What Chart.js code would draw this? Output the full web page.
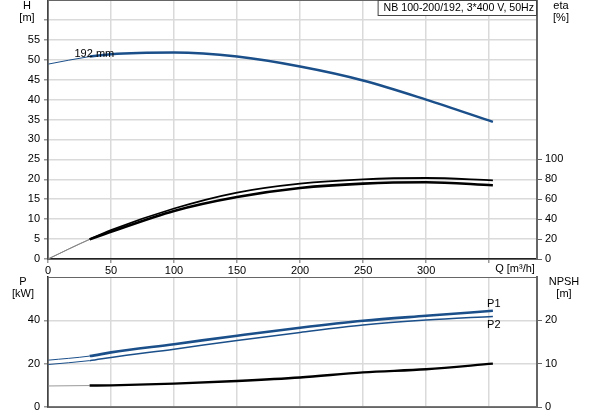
<!DOCTYPE html>
<html>
<head>
<meta charset="utf-8">
<script src="https://cdn.jsdelivr.net/npm/chart.js@4.4.0/dist/chart.umd.min.js"></script>
<style>
  body { margin: 0; background: #fff; }
  canvas { position: absolute; left: 0; }
  #top { top: 0; }
  #bottom { top: 276px; }
</style>
</head>
<body>
<canvas id="top" width="593" height="277"></canvas>
<canvas id="bottom" width="593" height="139"></canvas>
<script>
// caudal Q [m3/h]
const caudal = [0, 33, 50, 100, 150, 200, 250, 300, 353];
// altura H [m]
const altura = [48.9, 50.8, 51.4, 51.8, 50.8, 48.3, 44.8, 40.0, 34.4];
// rendimiento eta [%]
const etaSup = [0, 19.7, 29.0, 50.7, 66.7, 75.7, 80.0, 81.3, 79.0];
const etaInf = [0, 19.7, 27.3, 48.3, 62.3, 71.3, 75.7, 77.0, 74.0];
// potencia P1 / P2 [kW]
const potP1 = [21.6, 23.5, 25.2, 29.0, 32.9, 36.6, 39.8, 42.1, 44.4];
const potP2 = [19.6, 21.4, 22.9, 26.7, 30.7, 34.4, 37.8, 40.1, 41.8];
// NPSH [m]
const npsh = [4.85, 4.95, 5.0, 5.4, 6.0, 6.8, 8.0, 8.7, 10.0];

const ticksQ = [0, 50, 100, 150, 200, 250, 300, 350];
const ticksH = [0, 5, 10, 15, 20, 25, 30, 35, 40, 45, 50, 55, 60];
const ticksEta = [0, 20, 40, 60, 80, 100];
const ticksP = [0, 20, 40];
const ticksNpsh = [0, 10, 20];

const azul = '#1b4f8a';
const fuente = { family: 'Liberation Sans, Arial, sans-serif', size: 11 };
const rejilla = '#dadada';

function puntos(ys) {
  return caudal.map((q, i) => ({ x: q, y: ys[i] }));
}

// tramo fino fuera del rango de trabajo
function serie(ys, eje, color, ancho, colorFino) {
  return {
    data: puntos(ys),
    yAxisID: eje,
    borderColor: color,
    borderWidth: ancho,
    pointRadius: 0,
    cubicInterpolationMode: 'monotone',
    segment: {
      borderWidth: ctx => ctx.p1.parsed.x <= 33 ? 1 : undefined,
      borderColor: ctx => ctx.p1.parsed.x <= 33 ? colorFino : undefined
    }
  };
}

function fijar(lista) {
  return s => { s.ticks = lista.map(v => ({ value: v })); };
}

// ancho fijo del eje y sin margen extra arriba/abajo
function ajustar(ancho) {
  return s => { s.width = ancho; s.paddingTop = 0; s.paddingBottom = 0; };
}

const marco = {
  id: 'marco',
  afterDraw(chart, args, opts) {
    const { ctx, chartArea: a } = chart;
    ctx.save();
    ctx.strokeStyle = '#666';
    ctx.lineWidth = 1;
    ctx.strokeRect(a.left, a.top + 0.5, a.right - a.left, a.bottom - a.top);
    ctx.fillStyle = '#000';
    ctx.textBaseline = 'middle';
    (opts.textos || []).forEach(t => {
      ctx.font = (t.size || 11) + 'px Liberation Sans, Arial, sans-serif';
      ctx.textAlign = t.align || 'center';
      const p = typeof t.pos === 'function' ? t.pos(chart) : t.pos;
      if (t.caja) {
        // caja pegada al borde derecho del area
        const w = ctx.measureText(t.txt).width;
        ctx.fillStyle = '#fff';
        ctx.fillRect(a.right - w - 8, 0, w + 8, 16);
        ctx.strokeStyle = '#444';
        ctx.strokeRect(a.right - w - 8.5, 0.5, w + 8, 15);
        ctx.fillStyle = '#000';
        ctx.textAlign = 'right';
        ctx.fillText(t.txt, a.right - 3, 8);
        return;
      }
      ctx.fillText(t.txt, p[0], p[1]);
    });
    ctx.restore();
  }
};

Chart.defaults.font = fuente;
Chart.defaults.color = '#000';

////////////////////////grafico superior H / eta////////////////////
new Chart(document.getElementById('top'), {
  type: 'line',
  data: {
    datasets: [
      serie(altura, 'y', azul, 2.5, azul),
      serie(etaSup, 'y2', '#000', 1.8, '#888'),
      serie(etaInf, 'y2', '#000', 2.6, '#888')
    ]
  },
  options: {
    responsive: false,
    animation: false,
    layout: { padding: { top: 0 } },
    plugins: {
      legend: { display: false },
      tooltip: { enabled: false },
      marco: {
        textos: [
          { txt: 'H', pos: [27, 6] },
          { txt: '[m]', pos: [27, 18] },
          { txt: 'eta', pos: [561, 6] },
          { txt: '[%]', pos: [561, 18] },
          { txt: 'Q [m\u00b3/h]', pos: [515, 269] },
          { txt: 'NB 100-200/192, 3*400 V, 50Hz', size: 10.6, caja: true },
          { txt: '192 mm', align: 'left', pos: c => [c.scales.x.getPixelForValue(21), c.scales.y.getPixelForValue(altura[1]) - 3] }
        ]
      }
    },
    scales: {
      x: {
        type: 'linear', min: 0, max: 388,
        afterBuildTicks: fijar(ticksQ),
        afterFit: s => { s.height = 18; },
        ticks: { padding: 1, maxRotation: 0, callback: v => v === 350 ? '' : v },
        grid: { color: rejilla, lineWidth: 1.5, tickLength: 4, tickColor: '#999' },
        border: { color: '#222', width: 1.5 }
      },
      y: {
        type: 'linear', min: 0, max: 65,
        afterBuildTicks: fijar(ticksH),
        afterFit: ajustar(48),
        ticks: { padding: 4, callback: v => v > 55 ? '' : v },
        grid: { color: rejilla, lineWidth: 1.5, tickLength: 4, tickColor: '#999' },
        border: { color: '#222', width: 1.5 }
      },
      y2: {
        type: 'linear', position: 'right', min: 0, max: 260,
        afterBuildTicks: fijar(ticksEta),
        afterFit: ajustar(56),
        ticks: { padding: 3 },
        grid: { drawOnChartArea: false, tickLength: 5, tickColor: '#666' },
        border: { color: '#666', width: 2 }
      }
    }
  },
  plugins: [marco]
});

////////////////////////grafico inferior P / NPSH////////////////////
new Chart(document.getElementById('bottom'), {
  type: 'line',
  data: {
    datasets: [
      serie(potP1, 'y', azul, 2.6, azul),
      serie(potP2, 'y', azul, 1.5, azul),
      serie(npsh, 'y2', '#000', 2.4, '#999')
    ]
  },
  options: {
    responsive: false,
    animation: false,
    layout: { padding: { top: 1 } },
    plugins: {
      legend: { display: false },
      tooltip: { enabled: false },
      marco: {
        textos: [
          { txt: 'P', pos: [23, 6] },
          { txt: '[kW]', pos: [23, 18] },
          { txt: 'NPSH', pos: [564, 6] },
          { txt: '[m]', pos: [564, 18] },
          { txt: 'P1', align: 'left', pos: c => [c.scales.x.getPixelForValue(350) - 2, c.scales.y.getPixelForValue(potP1[8]) - 7] },
          { txt: 'P2', align: 'left', pos: c => [c.scales.x.getPixelForValue(350) - 2, c.scales.y.getPixelForValue(potP2[8]) + 9] }
        ]
      }
    },
    scales: {
      x: {
        type: 'linear', min: 0, max: 388,
        afterBuildTicks: fijar(ticksQ),
        afterFit: s => { s.height = 8; },
        ticks: { display: false },
        grid: { color: rejilla, lineWidth: 1.5, tickLength: 0 },
        border: { color: '#777', width: 2 }
      },
      y: {
        type: 'linear', min: 0, max: 60,
        afterBuildTicks: fijar(ticksP),
        afterFit: ajustar(48),
        ticks: { padding: 4 },
        grid: { color: rejilla, lineWidth: 1.5, tickLength: 4, tickColor: '#999' },
        border: { color: '#222', width: 1.5 }
      },
      y2: {
        type: 'linear', position: 'right', min: 0, max: 30,
        afterBuildTicks: fijar(ticksNpsh),
        afterFit: ajustar(56),
        ticks: { padding: 3 },
        grid: { drawOnChartArea: false, tickLength: 5, tickColor: '#666' },
        border: { color: '#666', width: 2 }
      }
    }
  },
  plugins: [marco]
});
</script>
</body>
</html>
